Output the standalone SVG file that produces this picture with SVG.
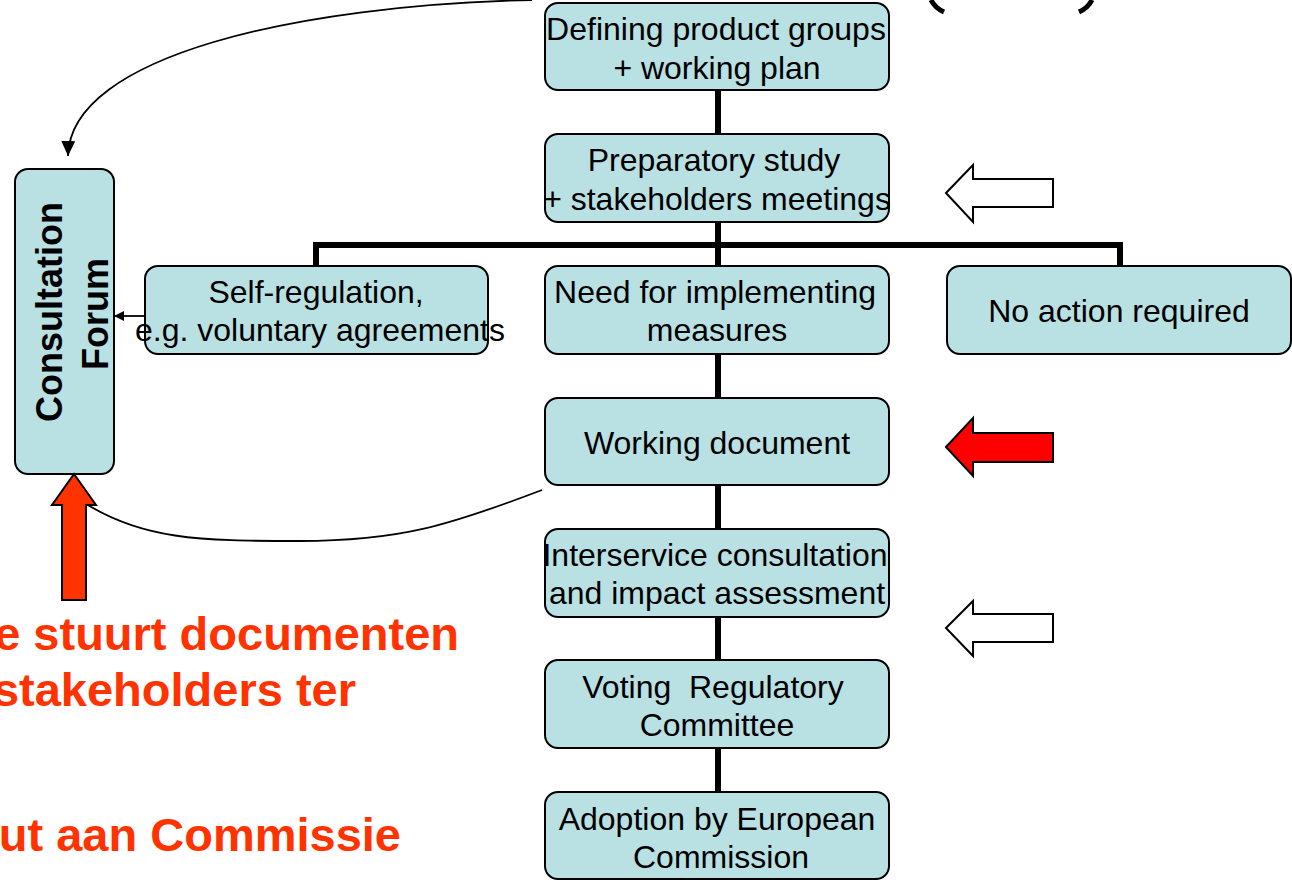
<svg xmlns="http://www.w3.org/2000/svg" width="1292" height="880" viewBox="0 0 1292 880">
<style>
.box{fill:#B9E0E3;stroke:#000;stroke-width:2}
.t{font-family:"Liberation Sans",Arial,sans-serif;font-size:32px;fill:#000;text-anchor:middle}
.cf{font-family:"Liberation Sans",Arial,sans-serif;font-size:36px;font-weight:bold;fill:#000;text-anchor:middle}
.red{font-family:"Liberation Sans",Arial,sans-serif;font-size:47px;font-weight:bold;fill:#FF3300;text-anchor:end}
.thick{stroke:#000;stroke-width:6;fill:none}
.thin{stroke:#000;stroke-width:1.8;fill:none}
.harrow{fill:#fff;stroke:#000;stroke-width:2;stroke-linejoin:miter}
</style>
<defs>
<marker id="ah" markerWidth="10" markerHeight="10" refX="9" refY="5" orient="auto" markerUnits="userSpaceOnUse">
<path d="M0,0 L10,5 L0,10 Z" fill="#000"/>
</marker>
<marker id="ah2" markerWidth="16" markerHeight="16" refX="15" refY="7" orient="auto" markerUnits="userSpaceOnUse">
<path d="M0,0 L15,7 L0,14 Z" fill="#000"/>
</marker>
</defs>
<g id="connectors">
<line class="thick" x1="718" y1="90" x2="718" y2="134"/>
<line class="thick" x1="718" y1="222" x2="718" y2="266"/>
<polyline class="thick" points="316,266 316,245 1120,245 1120,266"/>
<line class="thick" x1="718" y1="354" x2="718" y2="398"/>
<line class="thick" x1="718" y1="485" x2="718" y2="529"/>
<line class="thick" x1="718" y1="617" x2="718" y2="660"/>
<line class="thick" x1="718" y1="748" x2="718" y2="792"/>
<line class="thin" x1="145" y1="316" x2="115" y2="316" marker-end="url(#ah)"/>
<path class="thin" d="M532,0 C300,5 70,55 68,156" marker-end="url(#ah2)"/>
<path class="thin" d="M542,490 C450,525 400,541 300,541 C200,541 140,540 80,500"/>
</g>
<g id="top-marks">
<path d="M931,0 Q935,8 944,12" stroke="#000" stroke-width="5" fill="none"/>
<path d="M1092,0 Q1088,8 1079,12" stroke="#000" stroke-width="5" fill="none"/>
</g>
<g id="n1"><rect class="box" x="545" y="3" width="344" height="87" rx="13"/>
<text class="t" x="716" y="40">Defining product groups</text><text class="t" x="717" y="79">+ working plan</text></g>
<g id="n2"><rect class="box" x="545" y="134" width="344" height="88" rx="13"/>
<text class="t" x="714" y="171">Preparatory study</text><text class="t" x="717" y="210">+ stakeholders meetings</text></g>
<g id="n3"><rect class="box" x="145" y="266" width="343" height="88" rx="13"/>
<text class="t" x="316" y="303">Self-regulation,</text><text class="t" x="320" y="341">e.g. voluntary agreements</text></g>
<g id="n4"><rect class="box" x="545" y="266" width="344" height="88" rx="13"/>
<text class="t" x="715" y="303">Need for implementing</text><text class="t" x="717" y="341">measures</text></g>
<g id="n5"><rect class="box" x="947" y="266" width="344" height="88" rx="13"/>
<text class="t" x="1119" y="322">No action required</text></g>
<g id="n6"><rect class="box" x="545" y="398" width="344" height="87" rx="13"/>
<text class="t" x="717" y="454">Working document</text></g>
<g id="n7"><rect class="box" x="545" y="529" width="344" height="88" rx="13"/>
<text class="t" x="715" y="566">Interservice consultation</text><text class="t" x="717" y="604">and impact assessment</text></g>
<g id="n8"><rect class="box" x="545" y="660" width="344" height="88" rx="13"/>
<text class="t" x="713" y="698" xml:space="preserve">Voting  Regulatory</text><text class="t" x="717" y="736">Committee</text></g>
<g id="n9"><rect class="box" x="545" y="792" width="344" height="87" rx="13"/>
<text class="t" x="717" y="830">Adoption by European</text><text class="t" x="721" y="868">Commission</text></g>
<g id="consultation-forum"><rect class="box" x="15" y="169" width="99" height="305" rx="13"/>
<text class="cf" transform="translate(62,312) rotate(-90)">Consultation</text>
<text class="cf" transform="translate(108,314) rotate(-90)">Forum</text></g>
<g id="side-arrows">
<polygon class="harrow" points="946,193 973,165 973,179 1053,179 1053,207 973,207 973,222"/>
<polygon class="harrow" style="fill:#FF0000" points="946,447 973,418 973,433 1053,433 1053,462 973,462 973,476"/>
<polygon class="harrow" points="946,628 973,601 973,614 1053,614 1053,642 973,642 973,656"/>
<polygon class="harrow" style="fill:#FF3300" points="74,474 96,505 86,505 86,600 62,600 62,505 52,505"/>
</g>
<g id="red-text">
<text class="red" x="459" y="650">e stuurt documenten</text>
<text class="red" x="356" y="706">stakeholders ter</text>
<text class="red" x="401" y="851">ut aan Commissie</text>
</g>
</svg>
